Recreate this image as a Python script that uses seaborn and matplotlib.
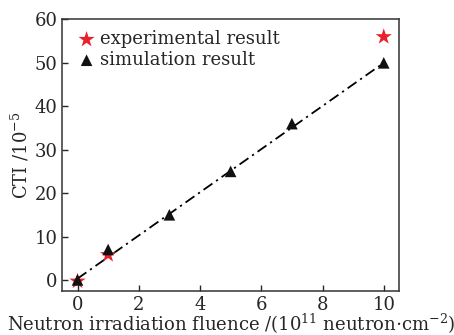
import matplotlib
matplotlib.use('Agg')
import matplotlib.pyplot as plt
import seaborn as sns
import pandas as pd

# data
exp_x = [0, 1, 10]
exp_y = [-0.3, 5.8, 56]
sim_x = [0, 1, 3, 5, 7, 10]
sim_y = [0, 7, 15, 25, 36, 50]
# dash-dot trend line through the simulation
fit_x = [0, 10]
fit_y = [0.3, 50]

exp_df = pd.DataFrame({'fluence': exp_x, 'cti': exp_y})
sim_df = pd.DataFrame({'fluence': sim_x, 'cti': sim_y})
fit_df = pd.DataFrame({'fluence': fit_x, 'cti': fit_y})

sns.set_style('ticks')
plt.rcParams['font.family'] = ['DejaVu Serif']
plt.rcParams['mathtext.fontset'] = 'dejavuserif'

fig, ax = plt.subplots(figsize=(4.54, 3.35), dpi=100)

sns.lineplot(data=fit_df, x='fluence', y='cti', ax=ax, color='black',
             linestyle=(0, (6, 2.5, 1.2, 2.5)), linewidth=1.3)
sns.scatterplot(data=exp_df, x='fluence', y='cti', ax=ax, marker='*',
                s=150, color='#e8212b', edgecolor='none',
                label='experimental result', zorder=3)
sns.scatterplot(data=sim_df, x='fluence', y='cti', ax=ax, marker='^',
                s=70, color='#111111', edgecolor='none',
                label='simulation result', zorder=4)

ax.set_xlim(-0.5, 10.5)
ax.set_ylim(-2.5, 60)
ax.set_xticks([0, 2, 4, 6, 8, 10])
ax.set_yticks([0, 10, 20, 30, 40, 50, 60])
ax.tick_params(direction='in', length=4, labelsize=13, width=1)
for sp in ax.spines.values():
    sp.set_linewidth(1.1)
    sp.set_color('#333333')

ax.set_xlabel('Neutron irradiation fluence /(10$^{11}$ neutron$\\cdot$cm$^{-2}$)',
              fontsize=13, labelpad=-1)
ax.set_ylabel('CTI /10$^{-5}$', fontsize=13, labelpad=2)

ax.legend(loc='upper left', frameon=False, fontsize=13, handletextpad=0.0,
          borderaxespad=0.2, labelspacing=0.15, handlelength=1.5,
          bbox_to_anchor=(0.0, 1.0))

fig.subplots_adjust(left=0.137, right=0.879, top=0.942, bottom=0.132)
fig.savefig('out.png', dpi=100)
